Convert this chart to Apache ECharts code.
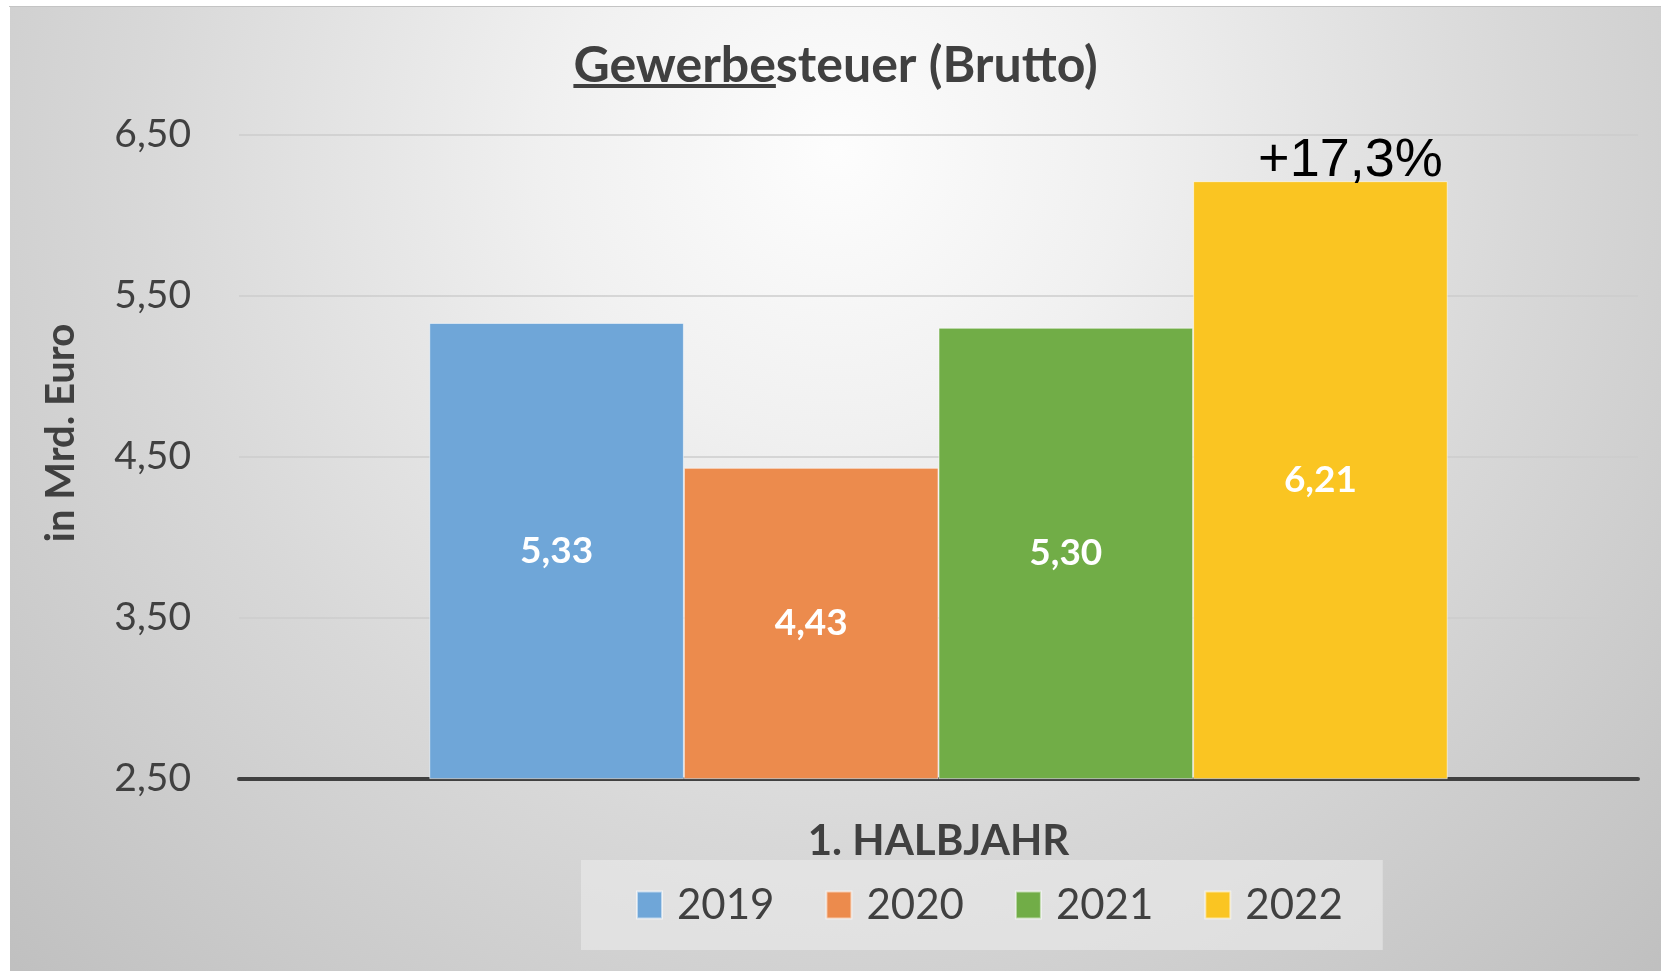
<!DOCTYPE html>
<html>
<head>
<meta charset="utf-8">
<script src="https://cdn.jsdelivr.net/npm/echarts@6/dist/echarts.min.js"></script>
<style>
  body { margin: 0; background: #fff; width: 1661px; height: 971px; overflow: hidden; }
  #topline { position: absolute; left: 9px; top: 6px; width: 1652px; height: 1px; background: #c4c4c4; }
  #chart { position: absolute; left: 10px; top: 7px; width: 1651px; height: 964px; }
</style>
</head>
<body>
<div id="topline"></div>
<div id="chart"></div>
<script>
// Daten
const categories = ['1. HALBJAHR'];
const years = ['2019', '2020', '2021', '2022'];
const values = [5.33, 4.43, 5.30, 6.21];
const yTicks = [2.5, 6.5, 1]; // min, max, interval
const growthLabel = '+17,3%';

const colors = ['#6fa6d8', '#ec8b4d', '#71ad47', '#fac522'];
const textColor = '#404040';

function fmt(v) {
  return Number(v).toFixed(2).replace('.', ',');
}

const chart = echarts.init(document.getElementById('chart'));

const series = years.map(function (y, i) {
  const s = {
    name: y,
    type: 'bar',
    barGap: '0%',
    barCategoryGap: '27.2%',
    itemStyle: {
      color: colors[i],
      borderColor: 'rgba(255,255,255,0.55)',
      borderWidth: 1
    },
    label: {
      show: true,
      position: 'inside',
      color: '#fff',
      fontFamily: 'Lato',
      fontWeight: 'bold',
      fontSize: 37,
      formatter: function (p) { return fmt(p.value); }
    },
    data: [values[i]]
  };
  if (i === years.length - 1) {
    s.markPoint = {
      symbol: 'rect',
      symbolSize: 1,
      itemStyle: { color: 'transparent' },
      label: {
        show: true,
        position: 'top',
        distance: 0,
        offset: [30, 7],
        formatter: growthLabel,
        fontFamily: 'Liberation Sans',
        fontSize: 54,
        color: '#000'
      },
      data: [{ type: 'max' }]
    };
  }
  return s;
});

const option = {
  backgroundColor: new echarts.graphic.RadialGradient(0.5, 0.15, 1.2, [
    { offset: 0, color: '#fdfdfd' },
    { offset: 0.25, color: '#f0f0f0' },
    { offset: 0.6, color: '#d8d8d8' },
    { offset: 1, color: '#c0c0c0' }
  ]),
  title: {
    text: 'Gewerbesteuer (Brutto)',
    left: 'center',
    top: 29,
    textStyle: {
      fontFamily: 'Lato',
      fontWeight: 'bold',
      fontSize: 50,
      color: textColor
    }
  },
  legend: {
    left: 571,
    top: 853,
    padding: [24, 40, 24, 55],
    backgroundColor: 'rgba(235,235,235,0.6)',
    itemWidth: 25,
    itemHeight: 27,
    itemGap: 51,
    icon: 'rect',
    textStyle: {
      fontFamily: 'Lato',
      fontSize: 42,
      color: textColor,
      padding: [0, 0, 0, 10]
    },
    data: years
  },
  grid: {
    left: 229,
    right: 23,
    top: 127.5,
    bottom: 192.4
  },
  xAxis: {
    type: 'category',
    data: categories,
    axisTick: { show: false },
    axisLine: { lineStyle: { color: textColor, width: 4 } },
    axisLabel: {
      margin: 42,
      fontFamily: 'Lato',
      fontWeight: 'bold',
      fontSize: 42,
      color: textColor
    }
  },
  yAxis: {
    type: 'value',
    min: yTicks[0],
    max: yTicks[1],
    interval: yTicks[2],
    axisLine: { show: false },
    axisTick: { show: false },
    splitLine: { lineStyle: { color: '#cdcdcd', width: 1.5 } },
    axisLabel: {
      margin: 48,
      fontFamily: 'Lato',
      fontSize: 39,
      color: textColor,
      formatter: fmt
    },
    name: 'in Mrd. Euro',
    nameLocation: 'middle',
    nameGap: 158,
    nameTextStyle: {
      fontFamily: 'Lato',
      fontWeight: 'bold',
      fontSize: 40,
      color: textColor,
      padding: [0, 0, 0, 47]
    }
  },
  series: series
};

chart.setOption(option);

// Unterstreichung unter "Gewerbe" (Dekoration des Titels)
const ctx = document.createElement('canvas').getContext('2d');
ctx.font = 'bold 50px Lato';
const fullW = ctx.measureText('Gewerbesteuer (Brutto)').width;
const partW = ctx.measureText('Gewerbe').width;
const x0 = chart.getWidth() / 2 - fullW / 2;
chart.setOption({
  graphic: [{
    type: 'rect',
    shape: { x: x0, y: 77, width: partW, height: 4 },
    style: { fill: textColor }
  }]
});
</script>
</body>
</html>
